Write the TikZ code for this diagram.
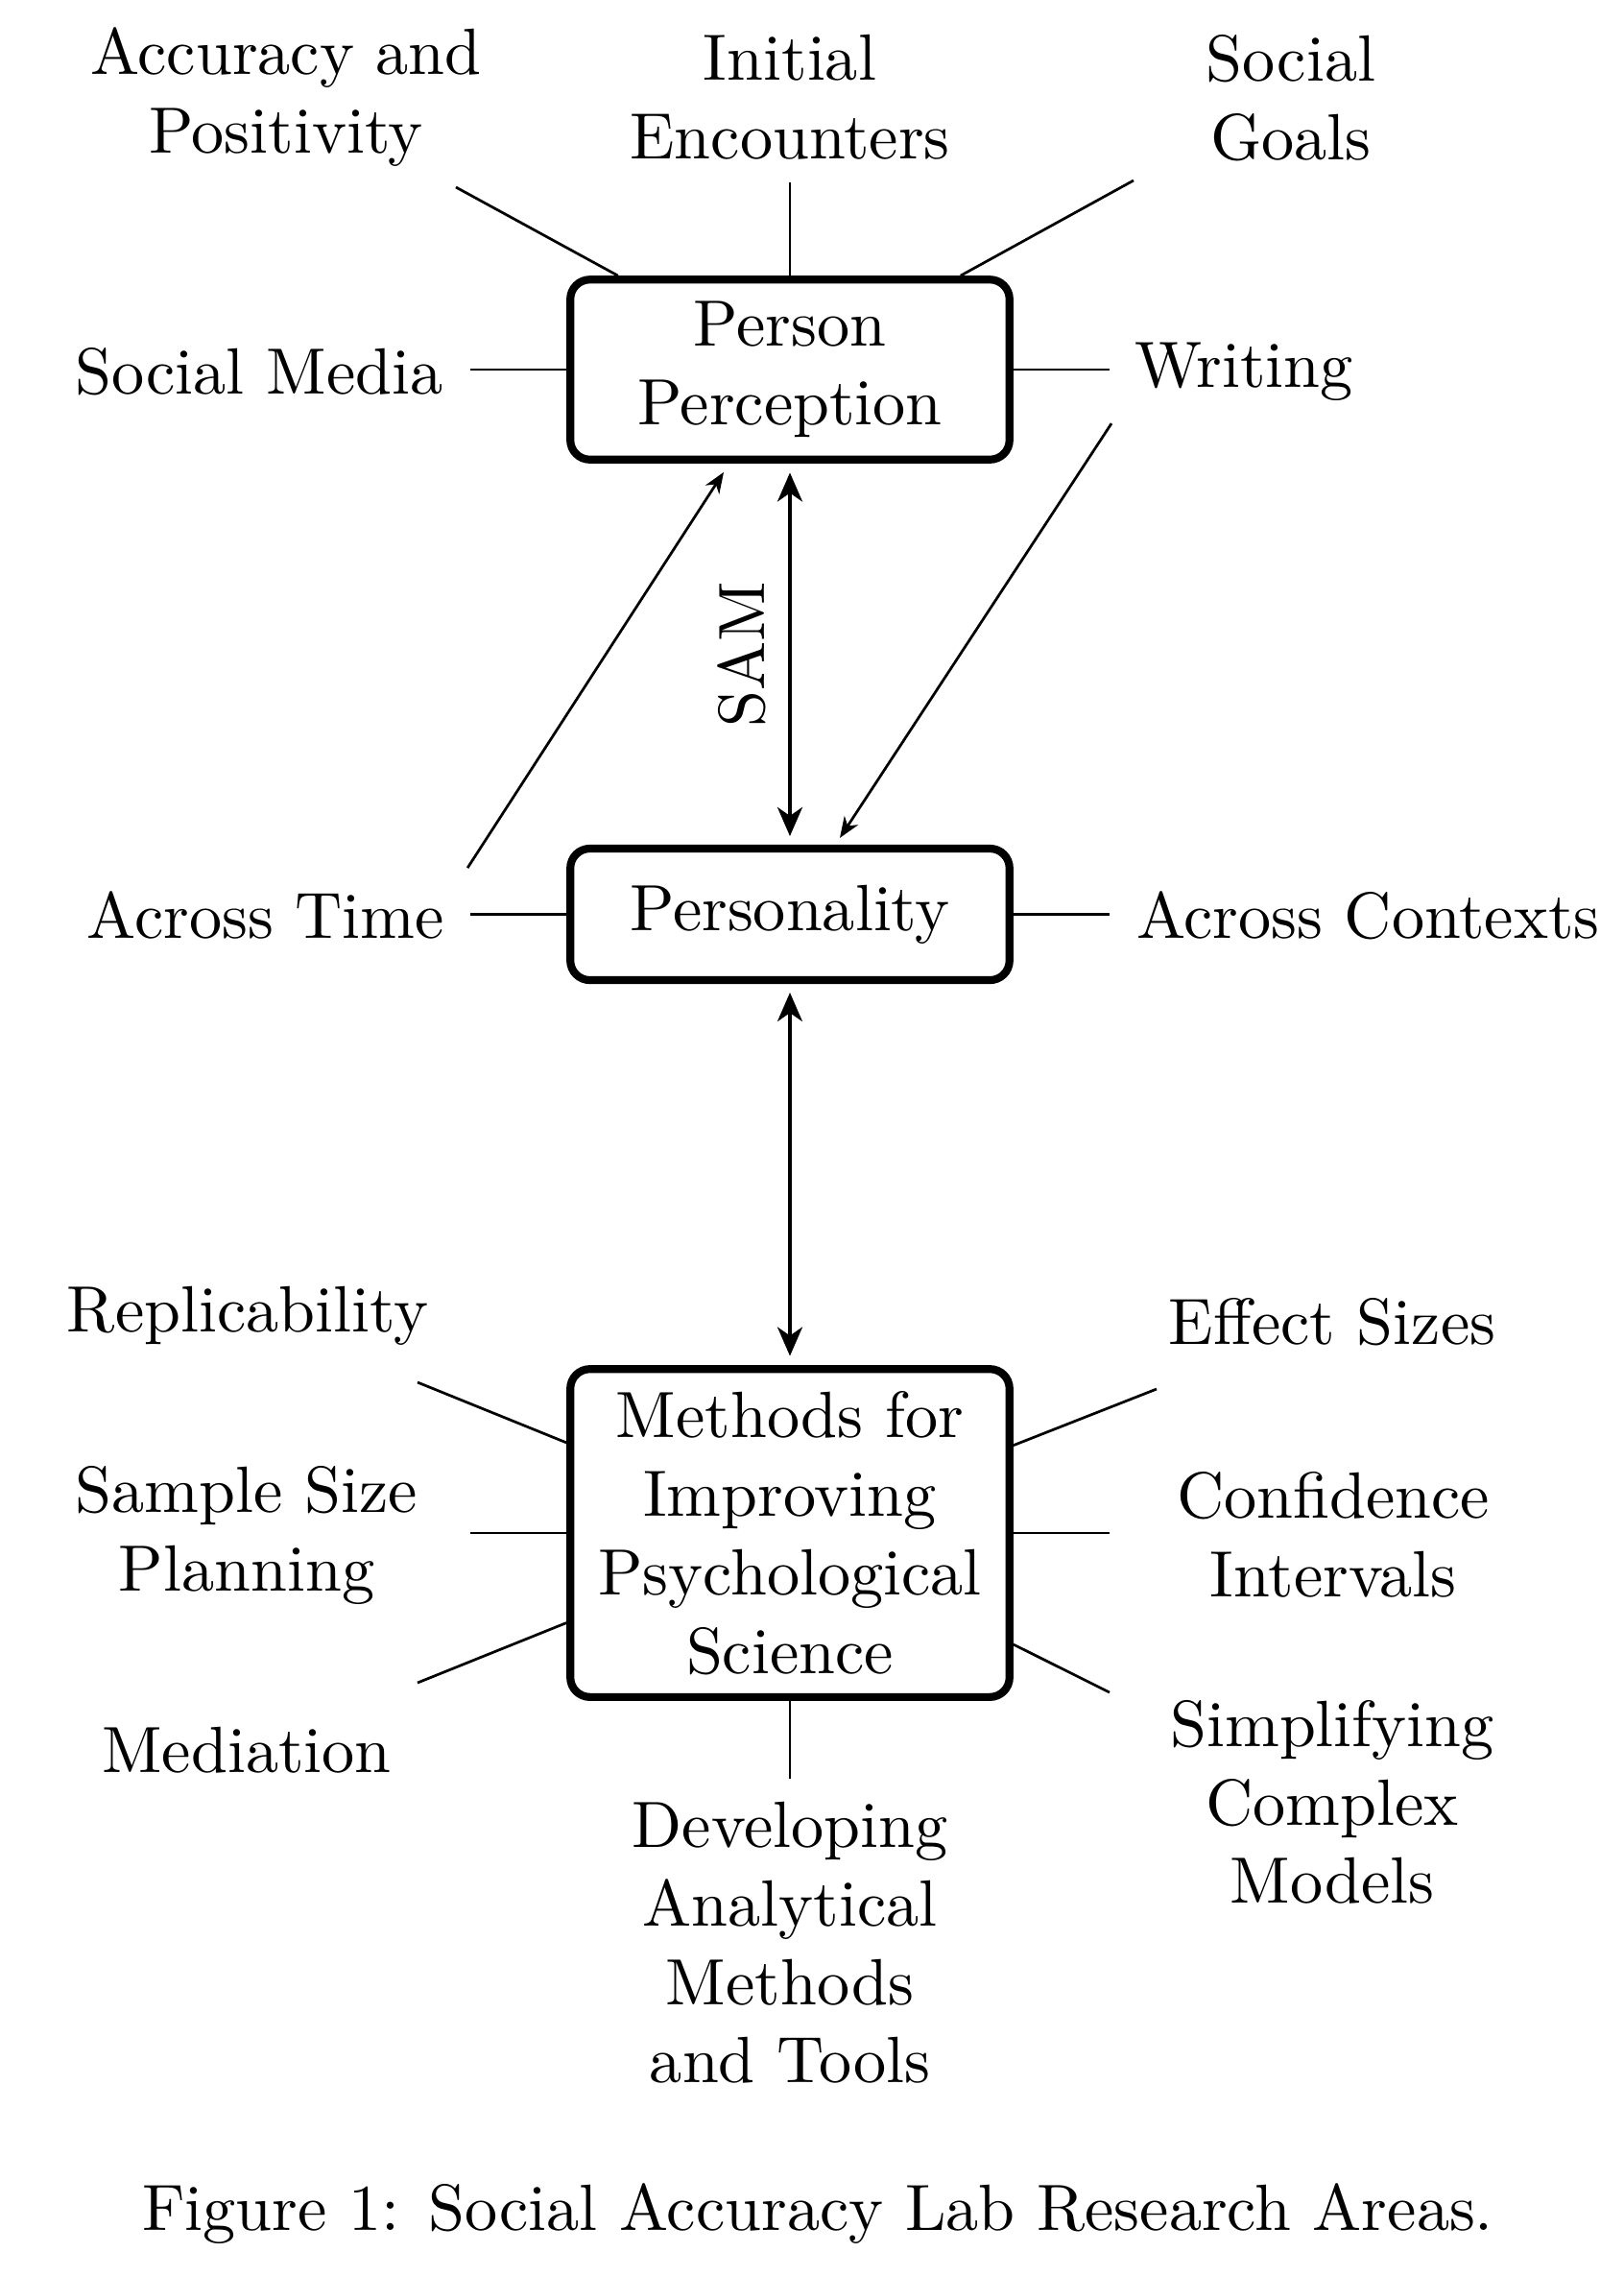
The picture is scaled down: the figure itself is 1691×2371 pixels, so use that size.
\documentclass[tikz,border=0pt]{standalone}
\usetikzlibrary{arrows.meta,calc}
\begin{document}
\begin{tikzpicture}[x=0.14663pt,y=-0.14663pt,
  box/.style={draw, line width=1.2pt, rounded corners=3pt, minimum width=67.1pt, align=center, inner sep=0pt},
  lbl/.style={align=center},
  stub/.style={line width=0.4pt},
  bigarrow/.style={line width=0.6pt, {Stealth[length=4.4pt,width=3.8pt,inset=1.3pt]}-{Stealth[length=4.4pt,width=3.8pt,inset=1.3pt]}, shorten <=1.3pt, shorten >=1.4pt},
  smallarrow/.style={line width=0.4pt, -{Stealth[length=3.2pt,width=2.5pt,inset=1pt]}}
]
\useasboundingbox (0,0) rectangle (1691,2371);
% main boxes
\node[box, minimum height=27.5pt] (pp) at (823,385) {Person\\Perception};
\node[box, minimum height=20.1pt] (pers) at (823,952.5) {Personality};
\node[box, minimum height=50.1pt] (meth) at (823,1597) {Methods for\\Improving\\Psychological\\Science};
% labels
\node[lbl, anchor=north] (acc) at (298,5) {Accuracy and\\Positivity};
\node[lbl, anchor=north] (init) at (823,12) {Initial\\Encounters};
\node[lbl, anchor=north] (goa) at (1345,12) {Social\\Goals};
\node[lbl, anchor=base] (sm) at (270,410) {Social Media};
\node[lbl, anchor=base west] (wri) at (1158,403) {Writing};
\node[lbl, anchor=base] (at) at (277,977) {Across Time};
\node[lbl, anchor=base west] (ac) at (1160,977) {Across Contexts};
\node[lbl, anchor=base] (rep) at (258,1387) {Replicability};
\node[lbl, anchor=base] (eff) at (1388,1400) {Effect Sizes};
\node[lbl, anchor=north] (sam) at (257,1503) {Sample Size\\Planning};
\node[lbl, anchor=north] (con) at (1389,1509) {Confidence\\Intervals};
\node[lbl, anchor=base] (med) at (257,1846) {Mediation};
\node[lbl, anchor=north] (sim) at (1388,1747) {Simplifying\\Complex\\Models};
\node[lbl, anchor=north] (dev) at (823,1853) {Developing\\Analytical\\Methods\\and Tools};
\node[anchor=base] (cap) at (852,2323) {Figure 1: Social Accuracy Lab Research Areas.};
% free ends of stubs
\coordinate (eAcc) at (475,195);
\coordinate (eGoa) at (1181,188);
\coordinate (eSM) at (490,385);
\coordinate (eWri) at (1156,385);
\coordinate (eAT) at (490,952.5);
\coordinate (eAC) at (1156,952.5);
\coordinate (eRep) at (435,1440);
\coordinate (eEff) at (1205,1447);
\coordinate (eSam) at (490,1597);
\coordinate (eCon) at (1156,1597);
\coordinate (eMed) at (435,1753);
\coordinate (eSim) at (1156,1763);
% stubs
\draw[stub] (pp) -- (eAcc);
\draw[stub] (pp) -- (init);
\draw[stub] (pp) -- (eGoa);
\draw[stub] (pp) -- (eSM);
\draw[stub] (pp) -- (eWri);
\draw[stub] (pers) -- (eAT);
\draw[stub] (pers) -- (eAC);
\draw[stub] (meth) -- (eRep);
\draw[stub] (meth) -- (eEff);
\draw[stub] (meth) -- (eSam);
\draw[stub] (meth) -- (eCon);
\draw[stub] (meth) -- (eMed);
\draw[stub] (meth) -- (eSim);
\draw[stub] (meth) -- (dev);
% arrows
\draw[bigarrow] (pers.north) -- node[midway, above, sloped] {SAM} (pp.south);
\draw[bigarrow] (pers.south) -- (meth.north);
\coordinate (tA) at ($(pp.south)+(-69,9)$);
\coordinate (tB) at ($(pers.north)+(52,-7)$);
\draw[smallarrow] (at.north east) -- (tA);
\draw[smallarrow] (wri.south west) -- (tB);
\end{tikzpicture}
\end{document}
